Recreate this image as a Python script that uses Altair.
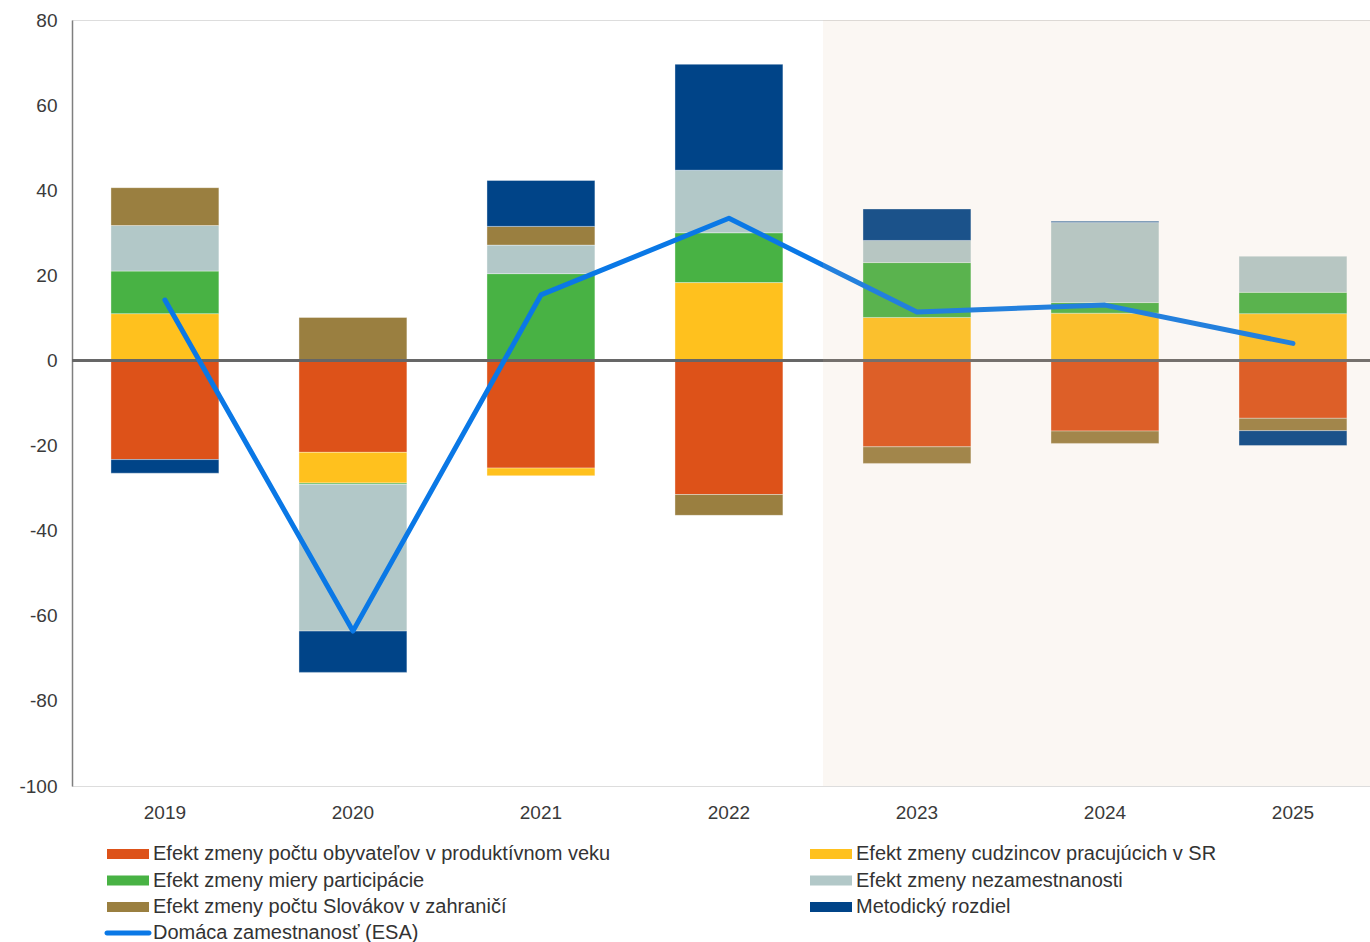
import altair as alt
import pandas as pd

# Years on the horizontal axis; 2023-2025 are projections
years = ["2019", "2020", "2021", "2022", "2023", "2024", "2025"]

# Contributions to employment growth (thousands of persons)
obyvatelia = [-23.3, -21.6, -25.3, -31.5, -20.3, -16.6, -13.6]
cudzinci = [11.0, -7.2, -1.8, 18.3, 10.1, 11.1, 11.0]
participacia = [10.0, -0.3, 20.4, 11.7, 12.9, 2.5, 5.0]
nezamestnanost = [10.7, -34.5, 6.7, 14.7, 5.2, 18.8, 8.5]
slovaci_zahranicie = [8.9, 10.1, 4.4, -4.9, -3.9, -2.9, -2.9]
metodicky = [-3.2, -9.7, 10.8, 24.9, 7.4, 0.3, -3.5]

# Domestic employment (ESA)
zamestnanost = [14.2, -63.6, 15.4, 33.4, 11.4, 13.0, 4.0]

series_names = [
    "Efekt zmeny počtu obyvateľov v produktívnom veku",
    "Efekt zmeny cudzincov pracujúcich v SR",
    "Efekt zmeny miery participácie",
    "Efekt zmeny nezamestnanosti",
    "Efekt zmeny počtu Slovákov v zahraničí",
    "Metodický rozdiel",
]
series_values = [obyvatelia, cudzinci, participacia, nezamestnanost,
                 slovaci_zahranicie, metodicky]
series_colors = ["#DD5219", "#FFC11E", "#48B244", "#B2C8C8", "#9A7F40", "#004488"]
line_name = "Domáca zamestnanosť (ESA)"
line_color = "#0A78E6"

# First projected year marks the start of the shaded forecast area
forecast_start = "2023"

rows = []
for k, (name, vals) in enumerate(zip(series_names, series_values)):
    for y, v in zip(years, vals):
        rows.append({"rok": y, "zlozka": name, "hodnota": v, "poradie": k})
bars_df = pd.DataFrame(rows)
line_df = pd.DataFrame({"rok": years, "hodnota": zamestnanost, "ukazovatel": line_name})
shade_df = pd.DataFrame({"rok": [forecast_start]})

FONT = "Liberation Sans"
W, H = 1298, 766

x_scale = alt.Scale(domain=years, paddingInner=0.426, paddingOuter=0.165, align=0.628)
y_scale = alt.Scale(domain=[-100, 80], nice=False, zero=False)

x_enc = alt.X("rok:N", scale=x_scale, sort=years,
              axis=alt.Axis(title=None, domain=False, ticks=False, labelAngle=0,
                            labelPadding=17, labelFontSize=19, labelColor="#3a3a3a",
                            labelFont=FONT))
y_enc_axis = alt.Axis(title=None, values=list(range(-100, 81, 20)), grid=False,
                      ticks=False, domain=True, domainColor="#7f7f7f", domainWidth=1.5,
                      labelPadding=15, labelFontSize=19, labelColor="#3a3a3a",
                      labelFont=FONT, labelExpr="'' + datum.value")

# Legend swatches: wide flat rectangles drawn in a narrow layout slot
BAR_SWATCH = "M-3,-0.714H3V0.714H-3Z"
LINE_SWATCH = "M-3,-0.36H3A0.36,0.36 0 0 1 3,0.36H-3A0.36,0.36 0 0 1 -3,-0.36Z"

bars = alt.Chart(bars_df).mark_bar(stroke="#ffffff", strokeWidth=0.6, strokeOpacity=0.6).encode(
    x=x_enc,
    y=alt.Y("hodnota:Q", stack="zero", scale=y_scale, axis=y_enc_axis),
    color=alt.Color(
        "zlozka:N",
        scale=alt.Scale(domain=series_names, range=series_colors),
        legend=alt.Legend(
            title=None, orient="none", legendX=46, legendY=824, columns=2,
            direction="horizontal", columnPadding=199, rowPadding=6.5,
            symbolType=BAR_SWATCH, symbolSize=196,
            symbolStrokeWidth=0, symbolOpacity=1,
            labelFontSize=20, labelFont=FONT, labelColor="#333333",
            labelLimit=700, labelOffset=15,
        ),
    ),
    order=alt.Order("poradie:Q", sort="ascending"),
)

zero_rule = alt.Chart(line_df).mark_rule(color="#666666", strokeWidth=2).encode(
    y=alt.datum(0, scale=y_scale)
)

line = alt.Chart(line_df).mark_line(strokeWidth=5, strokeCap="round", strokeJoin="round").encode(
    x=alt.X("rok:N", scale=x_scale, sort=years),
    y=alt.Y("hodnota:Q", scale=y_scale),
    stroke=alt.Stroke(
        "ukazovatel:N",
        scale=alt.Scale(domain=[line_name], range=[line_color]),
        legend=alt.Legend(
            title=None, orient="none", legendX=46, legendY=903,
            symbolType=LINE_SWATCH, symbolSize=196, symbolStrokeWidth=0,
            symbolFillColor=line_color,
            labelFontSize=20, labelFont=FONT, labelColor="#333333",
            labelLimit=700, labelOffset=15,
        ),
    ),
)

# Semi-transparent tint over the projection years, starting halfway into the gap
shade = alt.Chart(shade_df).mark_rect(color="#DCBB99", opacity=0.12, xOffset=-40).encode(
    x=alt.X("rok:N", scale=x_scale, sort=years, bandPosition=0),
    x2=alt.value({"expr": "width + 40"}),
    y=alt.value(0),
    y2=alt.value({"expr": "height"}),
)

chart = alt.layer(bars, zero_rule, line, shade).properties(
    width=W, height=H,
    autosize=alt.AutoSizeParams(type="none"),
    padding={"left": 72, "top": 20, "right": 0, "bottom": 156},
).configure_view(stroke=None).configure(font=FONT)

chart.save("out.html", embed_options={"renderer": "svg", "actions": False})
